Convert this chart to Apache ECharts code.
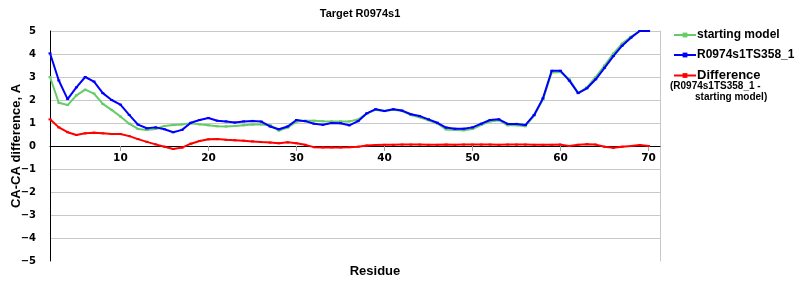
<!DOCTYPE html>
<html>
<head>
<meta charset="utf-8">
<script src="https://cdn.jsdelivr.net/npm/echarts@6/dist/echarts.min.js"></script>
<style>html,body{margin:0;padding:0;background:#fff}#c{width:800px;height:300px}</style>
</head>
<body>
<div id="c"></div>
<script>
const residues = [2,3,4,5,6,7,8,9,10,11,12,13,14,15,16,17,18,19,20,21,22,23,24,25,26,27,28,29,30,31,32,33,34,35,36,37,38,39,40,41,42,43,44,45,46,47,48,49,50,51,52,53,54,55,56,57,58,59,60,61,62,63,64,65,66,67,68,69,70];
const startingModel = [3.0,1.88,1.78,2.2,2.45,2.28,1.83,1.57,1.28,0.97,0.74,0.7,0.74,0.87,0.91,0.94,0.99,0.94,0.9,0.86,0.85,0.87,0.9,0.93,0.94,0.91,0.67,0.8,1.06,1.1,1.1,1.08,1.07,1.07,1.07,1.15,1.42,1.57,1.52,1.58,1.52,1.35,1.25,1.12,0.98,0.72,0.7,0.68,0.74,0.92,1.07,1.12,0.9,0.9,0.86,1.32,2.02,3.2,3.22,2.9,2.3,2.55,3.0,3.5,4.02,4.45,4.75,5.0,5.0];
const model = [4.03,2.85,2.04,2.55,3.0,2.8,2.3,2.0,1.8,1.35,0.93,0.77,0.81,0.73,0.6,0.7,1.01,1.13,1.22,1.1,1.07,1.02,1.07,1.09,1.06,0.85,0.73,0.85,1.13,1.08,0.97,0.92,1.0,0.99,0.9,1.08,1.42,1.6,1.52,1.6,1.54,1.38,1.3,1.16,1.01,0.8,0.75,0.75,0.81,0.97,1.13,1.16,0.96,0.96,0.91,1.35,2.07,3.27,3.27,2.84,2.3,2.51,2.9,3.4,3.91,4.36,4.71,5.0,5.0];
const difference = [1.16,0.81,0.6,0.48,0.55,0.58,0.55,0.52,0.52,0.43,0.3,0.18,0.07,-0.03,-0.13,-0.07,0.1,0.22,0.29,0.3,0.27,0.25,0.23,0.2,0.17,0.15,0.12,0.16,0.12,0.05,-0.05,-0.06,-0.06,-0.06,-0.05,-0.03,0.02,0.04,0.05,0.05,0.06,0.06,0.06,0.05,0.05,0.06,0.05,0.06,0.06,0.06,0.06,0.05,0.06,0.06,0.06,0.05,0.05,0.05,0.06,0.0,0.05,0.08,0.06,-0.03,-0.08,-0.03,0.0,0.04,0.0];
const xTickValues = [10,20,30,40,50,60,70];
const seriesNames = ['starting model','R0974s1TS358_1','Difference'];
const titleText = 'Target R0974s1';
const xName = 'Residue';
const yName = 'CA-CA difference, A';
const diffNote = '(R0974s1TS358_1 -\n         starting model)';

const pairs = arr => residues.map((r,i)=>[r,arr[i]]);
const font = 'Liberation Sans, Arial, sans-serif';
const tickFont = 'DejaVu Sans, Verdana, sans-serif';

const chart = echarts.init(document.getElementById('c'), null, {renderer:'canvas'});
const mk = (name, data, color, z) => ({
  name, type:'line', data: pairs(data), z,
  symbol:'rect', symbolSize:[3,2], showSymbol:true,
  itemStyle:{color}, lineStyle:{color, width:2}, animation:false
});
chart.setOption({
  animation:false,
  title:{text:titleText, left:355, textAlign:'center', top:3,
    textStyle:{fontFamily:font, fontWeight:'bold', fontSize:11, color:'#000'}},
  grid:{left:50, right:140, top:31, bottom:39, containLabel:false, outerBoundsMode:'none'},
  legend:{orient:'vertical', left:668, top:24, itemWidth:22, itemHeight:6, itemGap:8,
    data:seriesNames,
    textStyle:{fontFamily:font, fontWeight:'bold', fontSize:12, color:'#000', padding:[0,0,0,-4],
      rich:{d:{fontFamily:font, fontWeight:'bold', fontSize:13, color:'#000'}}},
    formatter: n => n==='Difference' ? '{d|'+n+'}' : n},
  graphic:[{type:'text', left:670, top:80,
    style:{text:diffNote, font:'bold 10px '+font, fill:'#000', lineHeight:11.5}}],
  xAxis:{type:'value', min:2, max:71.3, offset:-115,
    name:xName, nameLocation:'middle', nameGap:119, nameMoveOverlap:false,
    nameTextStyle:{fontFamily:font, fontWeight:'bold', fontSize:13, color:'#000', padding:[0,0,0,40]},
    axisLine:{onZero:false, lineStyle:{color:'#000', width:1}},
    axisTick:{customValues:xTickValues, length:5, lineStyle:{color:'#a0a0a0'}},
    axisLabel:{customValues:xTickValues, fontFamily:tickFont, fontWeight:'bold', fontSize:10.5, color:'#000', margin:7},
    splitLine:{show:false}},
  yAxis:[{type:'value', min:-5, max:5, interval:1,
    name:yName, nameLocation:'middle', nameGap:27, nameRotate:90, nameMoveOverlap:false,
    nameTextStyle:{fontFamily:font, fontWeight:'bold', fontSize:13, color:'#000'},
    axisLine:{show:true, lineStyle:{color:'#000'}},
    axisTick:{show:false},
    axisLabel:{fontFamily:tickFont, fontWeight:'bold', fontSize:10, color:'#000', margin:14,
      formatter:v=>String(v).replace('-','\u2212')},
    splitLine:{show:true, lineStyle:{color:['rgba(0,0,0,0)','#c8c8c8','#c8c8c8','#c8c8c8','#c8c8c8','#c8c8c8','#c8c8c8','#c8c8c8','#c8c8c8','#c8c8c8','#c8c8c8']}}},
   {type:'value', min:-5, max:5, position:'right',
    axisLine:{show:true, lineStyle:{color:'#c8c8c8'}}, axisTick:{show:false}, axisLabel:{show:false}, splitLine:{show:false}}],
  series:[
    mk(seriesNames[0], startingModel, '#66cc66', 2),
    mk(seriesNames[1], model, '#0000ff', 3),
    mk(seriesNames[2], difference, '#ff0000', 4)
  ]
});
</script>
</body>
</html>
